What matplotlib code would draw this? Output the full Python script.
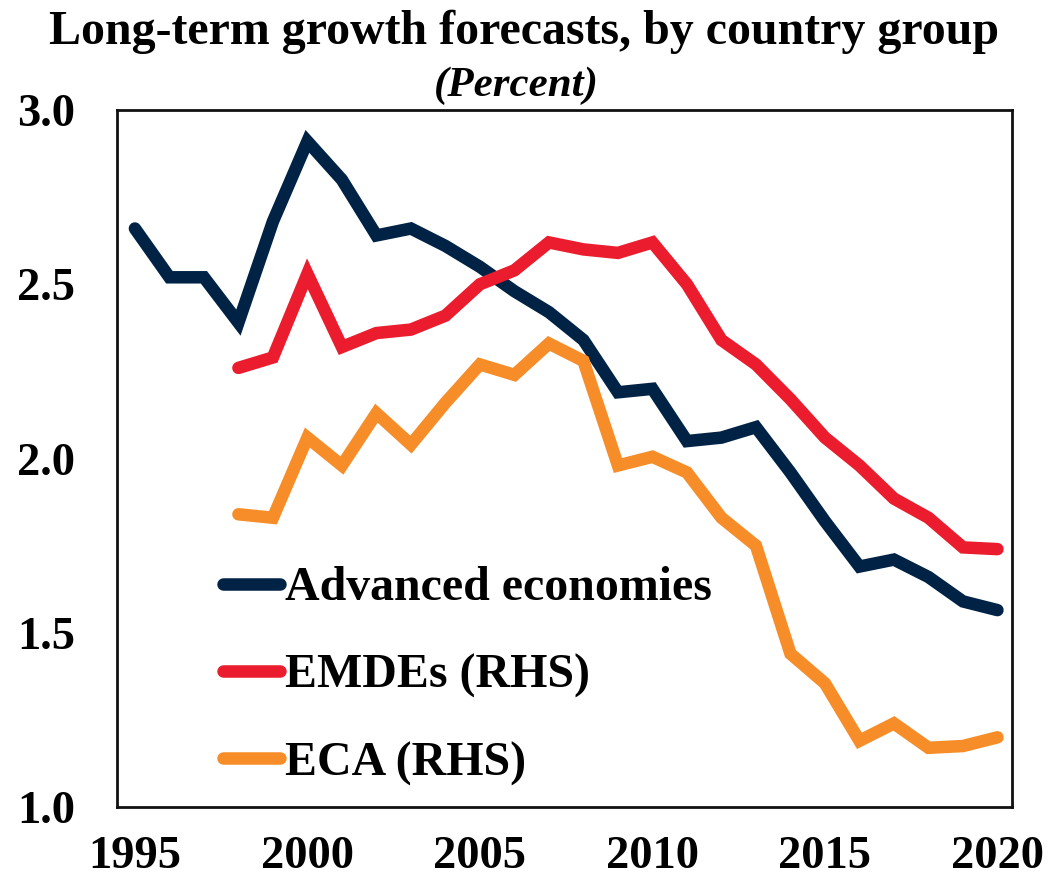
#!/usr/bin/env python3
"""Long-term growth forecasts, by country group."""

import matplotlib

matplotlib.use("Agg")
import matplotlib.pyplot as plt

YEARS = list(range(1995, 2021))

ADVANCED = [
    2.66, 2.52, 2.52, 2.39, 2.68, 2.91, 2.80, 2.64, 2.66, 2.61,
    2.55, 2.48, 2.42, 2.34, 2.19, 2.20, 2.05, 2.06, 2.09, 1.96,
    1.82, 1.69, 1.71, 1.66, 1.59, 1.565,
]
EMDE_YEARS = list(range(1998, 2021))
EMDES = [
    2.26, 2.29, 2.53, 2.32, 2.36, 2.37, 2.41, 2.50, 2.54, 2.62,
    2.60, 2.59, 2.62, 2.50, 2.34, 2.27, 2.17, 2.06, 1.98, 1.885,
    1.83, 1.745, 1.74,
]
ECA = [
    1.84, 1.83, 2.06, 1.98, 2.13, 2.04, 2.16, 2.27, 2.24, 2.33,
    2.28, 1.98, 2.005, 1.96, 1.83, 1.75, 1.44, 1.355, 1.19, 1.24,
    1.17, 1.175, 1.20,
]

SERIES = [
    ("Advanced economies", YEARS, ADVANCED, "#002345"),
    ("EMDEs (RHS)", EMDE_YEARS, EMDES, "#EB1C2D"),
    ("ECA (RHS)", EMDE_YEARS, ECA, "#F78D28"),
]

plt.rcParams["font.family"] = ["Liberation Serif", "DejaVu Serif"]
plt.rcParams["font.weight"] = "bold"

fig = plt.figure(figsize=(10.48, 8.85), dpi=100)
ax = fig.add_axes([0.1116, 0.0881, 0.854, 0.7876])

for label, x, y, color in SERIES:
    ax.plot(x, y, color=color, linewidth=9, label=label,
            solid_capstyle="round", solid_joinstyle="miter")

ax.set_xlim(1994.48, 2020.42)
ax.set_ylim(1.0, 3.0)
ax.set_xticks([1995, 2000, 2005, 2010, 2015, 2020])
ax.set_yticks([1.0, 1.5, 2.0, 2.5, 3.0])
ax.set_yticklabels([f"{v:.1f}" for v in [1.0, 1.5, 2.0, 2.5, 3.0]])
ax.tick_params(axis="y", length=0, labelsize=33.5, pad=30)
ax.tick_params(axis="x", length=0, labelsize=33.5, pad=21)
for lab in ax.get_xticklabels() + ax.get_yticklabels():
    lab.set_fontweight("bold")
for sp in ax.spines.values():
    sp.set_linewidth(2.0)
    sp.set_color("#111111")

ax.legend(loc="center left", bbox_to_anchor=(0.118, 0.188), frameon=False,
          handlelength=1.2, handletextpad=0.1,
          labelspacing=0.9, borderpad=0, borderaxespad=0,
          prop={"weight": "bold", "size": 34.5})

fig.text(0.5, 0.95, "Long-term growth forecasts, by country group",
         ha="center", va="baseline", fontsize=34.5, fontweight="bold")
fig.text(0.493, 0.892, "(Percent)", ha="center", va="baseline",
         fontsize=31, fontweight="bold", style="italic")

fig.savefig("out.png", dpi=100)
